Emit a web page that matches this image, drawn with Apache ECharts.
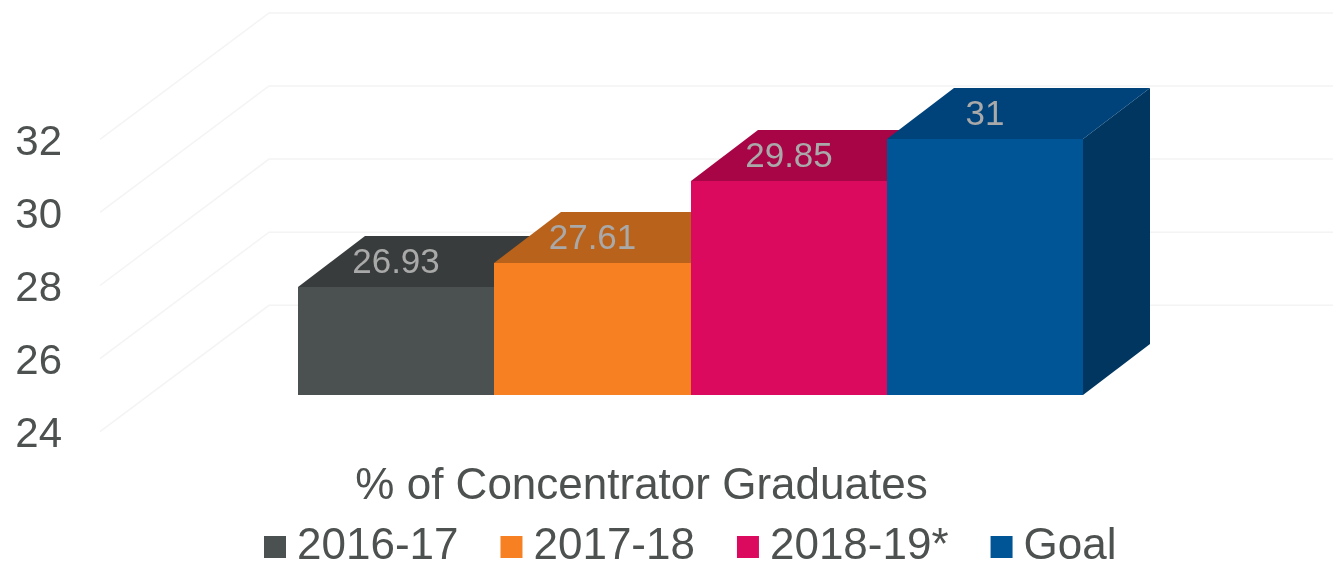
<!DOCTYPE html>
<html>
<head>
<meta charset="utf-8">
<title>% of Concentrator Graduates</title>
<style>
  html, body { margin: 0; padding: 0; background: #fff; }
  #chart { width: 1333px; height: 564px; }
</style>
<script src="https://cdn.jsdelivr.net/npm/echarts@6/dist/echarts.min.js"></script>
</head>
<body>
<div id="chart"></div>
<script>
// ==============================
// data
// ==============================
const categories = ['% of Concentrator Graduates'];
const seriesNames = ['2016-17', '2017-18', '2018-19*', 'Goal'];
const seriesValues = [26.93, 27.61, 29.85, 31];
const tickValues = [24, 26, 28, 30, 32];

// colours
const frontColors = ['#4b5150', '#f78023', '#dc0a5f', '#005596'];
const topColors = ['#383c3c', '#b9621b', '#a80547', '#00427a'];
const sideColors = ['#2f3333', '#9c5217', '#8a043a', '#00365f'];
const textColor = '#4d5150';
const FONT = '"Liberation Sans", Arial, sans-serif';

// depth of the fake 3d, in px
const BAR_DX = 67;
const BAR_DY = 51;
const WALL_DX = 169;
const WALL_DY = 126.4;

// ==============================
// render functions
// ==============================
function renderWall(params, api) {
  const p = api.coord([0, api.value(1)]);
  const end = api.coord([1, api.value(1)]);
  return {
    type: 'polyline',
    shape: {
      points: [
        [p[0], p[1]],
        [p[0] + WALL_DX, p[1] - WALL_DY],
        [end[0], p[1] - WALL_DY]
      ]
    },
    style: { fill: null, stroke: '#f4f4f4', lineWidth: 1.5 }
  };
}

function renderBar(i) {
  return function (params, api) {
    const band = api.size([1, 0])[0];
    const center = api.coord([0, tickValues[0]]);
    const w = band / seriesValues.length;
    // whole pixels, otherwise the faces show a seam where they meet
    const x0 = Math.round(center[0] - band / 2 + i * w);
    const x1 = Math.round(center[0] - band / 2 + (i + 1) * w);
    const base = Math.round(center[1]);
    const top = Math.round(api.coord([0, api.value(1)])[1]);
    const poly = (points, fill) => ({ type: 'polygon', shape: { points }, style: { fill } });
    return {
      type: 'group',
      children: [
        poly([[x1, base], [x1 + BAR_DX, base - BAR_DY], [x1 + BAR_DX, top - BAR_DY], [x1, top]], sideColors[i]),
        poly([[x0, top], [x0 + BAR_DX, top - BAR_DY], [x1 + BAR_DX, top - BAR_DY], [x1, top]], topColors[i]),
        { type: 'rect', shape: { x: x0, y: top, width: x1 - x0, height: base - top }, style: { fill: frontColors[i] } },
        {
          type: 'text',
          x: (x0 + x1) / 2,
          y: top - 24,
          style: {
            text: String(api.value(1)),
            font: '35px ' + FONT,
            fill: '#a9a9a9',
            align: 'center',
            verticalAlign: 'middle'
          }
        }
      ]
    };
  };
}

// ==============================
// chart
// ==============================
const chart = echarts.init(document.getElementById('chart'));

const wallSeries = {
  type: 'custom',
  xAxisIndex: 0,
  yAxisIndex: 0,
  silent: true,
  z: 1,
  renderItem: renderWall,
  data: tickValues.map(v => [0, v])
};

const barSeries = seriesNames.map((name, i) => ({
  name,
  type: 'custom',
  xAxisIndex: 1,
  yAxisIndex: 1,
  z: 2 + i,
  itemStyle: { color: frontColors[i] },
  renderItem: renderBar(i),
  data: [[0, seriesValues[i]]]
}));

chart.setOption({
  backgroundColor: '#fff',
  animation: false,
  legend: {
    data: seriesNames,
    left: 264,
    top: 525,
    padding: 0,
    icon: 'rect',
    itemWidth: 22,
    itemHeight: 22,
    itemGap: 42,
    textStyle: {
      color: textColor,
      fontFamily: FONT,
      fontSize: 44,
      padding: [0, 0, 0, 6]
    }
  },
  grid: [
    { left: 100, right: 0, top: 139.3, height: 292.4 },
    { left: 298, width: 785, top: 102.1, height: 292.4 }
  ],
  xAxis: [
    { type: 'value', gridIndex: 0, min: 0, max: 1, show: false },
    {
      type: 'category',
      gridIndex: 1,
      data: categories,
      axisLine: { show: false },
      axisTick: { show: false },
      axisLabel: {
        color: textColor,
        fontFamily: FONT,
        fontSize: 44,
        margin: 70,
        padding: [0, 98, 0, 0]
      }
    }
  ],
  yAxis: [
    {
      type: 'value',
      gridIndex: 0,
      min: tickValues[0],
      max: tickValues[tickValues.length - 1],
      interval: 2,
      axisLine: { show: false },
      axisTick: { show: false },
      splitLine: { show: false },
      axisLabel: {
        color: textColor,
        fontFamily: FONT,
        fontSize: 42,
        margin: 38,
        verticalAlign: 'top',
        lineHeight: 8
      }
    },
    {
      type: 'value',
      gridIndex: 1,
      min: tickValues[0],
      max: tickValues[tickValues.length - 1],
      show: false
    }
  ],
  series: [wallSeries].concat(barSeries)
});
</script>
</body>
</html>
